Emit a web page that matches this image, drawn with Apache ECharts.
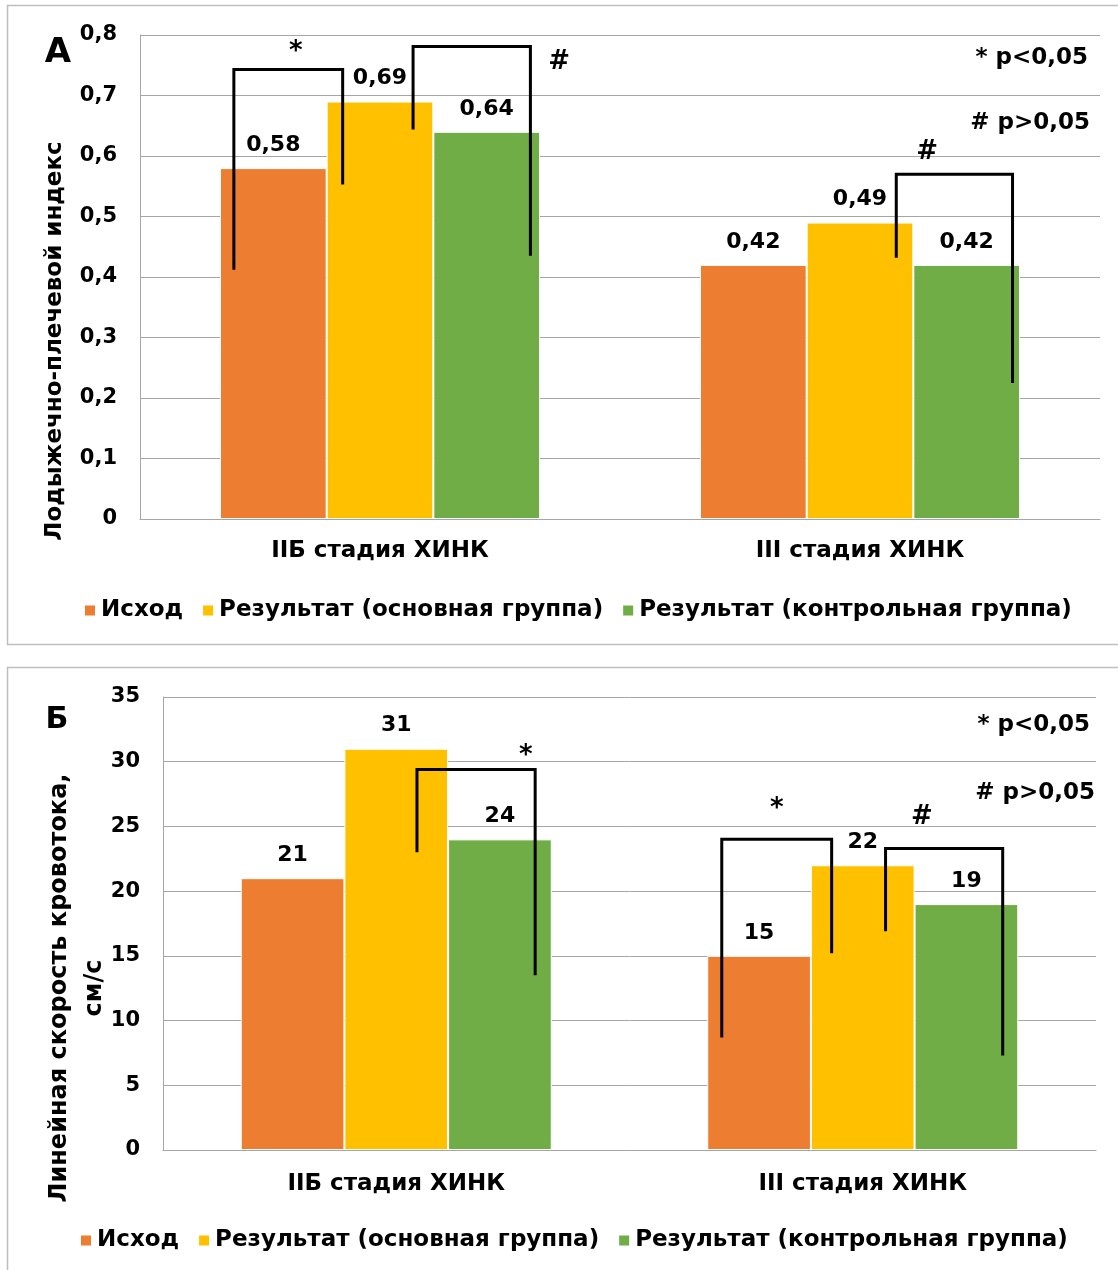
<!DOCTYPE html>
<html>
<head>
<meta charset="utf-8">
<script src="https://cdn.jsdelivr.net/npm/echarts@6/dist/echarts.min.js"></script>
<style>
html, body { margin: 0; padding: 0; background: #fff; }
#chart { width: 1118px; height: 1270px; }
</style>
</head>
<body>
<div id="chart"></div>
<script>
// Categories and series
const categories = ['IIБ стадия ХИНК', 'III стадия ХИНК'];
const seriesNames = ['Исход', 'Результат (основная группа)', 'Результат (контрольная группа)'];

// Panel А: ankle-brachial index
const abiOutcome = [0.58, 0.42];
const abiMain = [0.69, 0.49];
const abiControl = [0.64, 0.42];
const abiTicks = [0, 0.1, 0.2, 0.3, 0.4, 0.5, 0.6, 0.7, 0.8];

// Panel Б: linear blood flow velocity, cm/s
const lbfOutcome = [21, 15];
const lbfMain = [31, 22];
const lbfControl = [24, 19];
const lbfTicks = [0, 5, 10, 15, 20, 25, 30, 35];

// Significance brackets: category, the two bars compared (series index),
// bracket top and the levels where its two legs end, marker
const abiBrackets = [
  { cat: 0, from: 0, to: 1, top: 0.743, endFrom: 0.412, endTo: 0.553, mark: '*' },
  { cat: 0, from: 1, to: 2, top: 0.781, endFrom: 0.644, endTo: 0.435, mark: '#' },
  { cat: 1, from: 1, to: 2, top: 0.570, endFrom: 0.432, endTo: 0.225, mark: '#' }
];
const lbfBrackets = [
  { cat: 0, from: 1, to: 2, top: 29.4, endFrom: 23.0, endTo: 13.5, mark: '*' },
  { cat: 1, from: 0, to: 1, top: 24.0, endFrom: 8.7, endTo: 15.2, mark: '*' },
  { cat: 1, from: 1, to: 2, top: 23.3, endFrom: 16.9, endTo: 7.3, mark: '#' }
];

// Bracket drawing layout: leg shift from bar centre (in bar widths),
// marker x from category centre (bar widths) and marker lift above the bracket (px)
const abiBracketLayout = [
  { legs: [-0.37, -0.35], markX: -0.79, markLift: 4 },
  { legs: [0.31, 0.41], markX: 1.68, markLift: -29 },
  { legs: [0.34, 0.43], markX: 0.63, markLift: 9 }
];
const lbfBracketLayout = [
  { legs: [0.20, 0.34], markX: 1.25, markLift: 0 },
  { legs: [-0.36, -0.30], markX: -0.83, markLift: 17 },
  { legs: [0.22, 0.35], markX: 0.57, markLift: 18 }
];

const COLORS = ['#ED7D31', '#FFC000', '#70AD47'];
const FONT = '"DejaVu Sans", "Liberation Sans", Arial, sans-serif';
const GRID_GRAY = '#A6A6A6';

const chart = echarts.init(document.getElementById('chart'), null, { renderer: 'canvas', width: 1118, height: 1270 });

function fmtComma(v) {
  return v === 0 ? '0' : v.toFixed(1).replace('.', ',');
}

function fmtComma2(v) {
  return v.toFixed(2).replace('.', ',');
}

function barSeries(name, values, idx, color, fmt) {
  return {
    name: name,
    type: 'bar',
    xAxisIndex: idx,
    yAxisIndex: idx,
    data: values,
    barGap: '0%',
    barCategoryGap: '33.333%',
    itemStyle: { color: color, borderColor: '#fff', borderWidth: 1 },
    label: {
      show: true,
      position: 'top',
      distance: 12,
      color: '#000',
      fontFamily: FONT,
      fontWeight: 'bold',
      fontSize: 22,
      formatter: function (p) { return fmt(p.value); }
    }
  };
}

function bracketSeries(list, layout, idx) {
  return {
    type: 'custom',
    xAxisIndex: idx,
    yAxisIndex: idx,
    silent: true,
    clip: false,
    z: 10,
    data: list.map(function (b) { return [b.cat, b.top]; }),
    renderItem: function (params, api) {
      const b = list[params.dataIndex];
      const l = layout[params.dataIndex];
      const band = api.size([1, 0])[0];
      const bw = band * 2 / 9;
      const cx = api.coord([b.cat, 0])[0];
      const xa = cx + (b.from - 1 + l.legs[0]) * bw;
      const xb = cx + (b.to - 1 + l.legs[1]) * bw;
      const yTop = api.coord([b.cat, b.top])[1];
      const yA = api.coord([b.cat, b.endFrom])[1];
      const yB = api.coord([b.cat, b.endTo])[1];
      return {
        type: 'group',
        children: [
          {
            type: 'polyline',
            shape: { points: [[xa, yA], [xa, yTop], [xb, yTop], [xb, yB]] },
            style: { stroke: '#000', lineWidth: 3, fill: null, lineJoin: 'miter' }
          },
          {
            type: 'text',
            x: cx + l.markX * bw,
            y: yTop - l.markLift,
            style: {
              text: b.mark,
              fill: '#000',
              font: 'bold 26px ' + FONT,
              align: 'center',
              verticalAlign: 'bottom'
            }
          }
        ]
      };
    }
  };
}

function valueAxis(idx, ticks, fmt) {
  return {
    type: 'value',
    gridIndex: idx,
    min: ticks[0],
    max: ticks[ticks.length - 1],
    interval: ticks[1] - ticks[0],
    axisLine: { show: true, lineStyle: { color: GRID_GRAY, width: 1 } },
    axisTick: { show: false },
    splitLine: { show: true, lineStyle: { color: GRID_GRAY, width: 1 } },
    axisLabel: {
      color: '#000',
      fontFamily: FONT,
      fontWeight: 'bold',
      fontSize: 21,
      margin: 23,
      formatter: fmt
    }
  };
}

function categoryAxis(idx, margin) {
  return {
    type: 'category',
    gridIndex: idx,
    data: categories,
    axisLine: { show: true, lineStyle: { color: GRID_GRAY, width: 1 } },
    axisTick: { show: false },
    axisLabel: {
      color: '#000',
      fontFamily: FONT,
      fontWeight: 'bold',
      fontSize: 23,
      margin: margin
    }
  };
}

function legend(top, left) {
  return {
    data: seriesNames,
    top: top,
    left: left,
    icon: 'rect',
    itemWidth: 12,
    itemHeight: 12,
    itemGap: 18,
    selectedMode: false,
    textStyle: { color: '#000', fontFamily: FONT, fontWeight: 'bold', fontSize: 23 }
  };
}

function noteText(x, y, text, size) {
  return {
    type: 'text',
    x: x,
    y: y,
    silent: true,
    style: {
      text: text,
      fill: '#000',
      font: 'bold ' + size + 'px ' + FONT,
      align: 'right',
      verticalAlign: 'middle'
    }
  };
}

const option = {
  backgroundColor: '#fff',
  animation: false,
  grid: [
    { left: 140, top: 35, width: 960, height: 484 },
    { left: 163, top: 697, width: 933, height: 453 }
  ],
  xAxis: [categoryAxis(0, 21), categoryAxis(1, 23)],
  yAxis: [
    valueAxis(0, abiTicks, fmtComma),
    valueAxis(1, lbfTicks, function (v) { return String(v); })
  ],
  legend: [legend(594, 78), legend(1224, 74)],
  series: [
    barSeries(seriesNames[0], abiOutcome, 0, COLORS[0], fmtComma2),
    barSeries(seriesNames[1], abiMain, 0, COLORS[1], fmtComma2),
    barSeries(seriesNames[2], abiControl, 0, COLORS[2], fmtComma2),
    barSeries(seriesNames[0], lbfOutcome, 1, COLORS[0], String),
    barSeries(seriesNames[1], lbfMain, 1, COLORS[1], String),
    barSeries(seriesNames[2], lbfControl, 1, COLORS[2], String),
    bracketSeries(abiBrackets, abiBracketLayout, 0),
    bracketSeries(lbfBrackets, lbfBracketLayout, 1)
  ],
  graphic: [
    // panel frames
    { type: 'rect', shape: { x: 7.5, y: 5.5, width: 1200, height: 639 }, style: { fill: null, stroke: '#BFBFBF', lineWidth: 1.5 }, silent: true, z: -1 },
    { type: 'rect', shape: { x: 7.5, y: 667.5, width: 1200, height: 700 }, style: { fill: null, stroke: '#BFBFBF', lineWidth: 1.5 }, silent: true, z: -1 },
    // panel letters
    { type: 'text', x: 58, y: 53, silent: true, style: { text: 'А', fill: '#000', font: 'bold 34px ' + FONT, align: 'center', verticalAlign: 'middle' } },
    { type: 'text', x: 57, y: 720, silent: true, style: { text: 'Б', fill: '#000', font: 'bold 30px ' + FONT, align: 'center', verticalAlign: 'middle' } },
    // significance notes
    noteText(1088, 58, '* p<0,05', 23),
    noteText(1090, 123, '# p>0,05', 23),
    noteText(1090, 725, '* p<0,05', 23),
    noteText(1095, 793, '# p>0,05', 23),
    // axis titles
    {
      type: 'text', x: 55, y: 341, rotation: Math.PI / 2, silent: true,
      style: { text: 'Лодыжечно-плечевой индекс', fill: '#000', font: 'bold 23px ' + FONT, align: 'center', verticalAlign: 'middle' }
    },
    {
      type: 'text', x: 77, y: 988, rotation: Math.PI / 2, silent: true,
      style: { text: 'Линейная скорость кровотока,\nсм/с', fill: '#000', font: 'bold 24px ' + FONT, align: 'center', verticalAlign: 'middle', lineHeight: 35 }
    }
  ]
};

chart.setOption(option);
</script>
</body>
</html>
